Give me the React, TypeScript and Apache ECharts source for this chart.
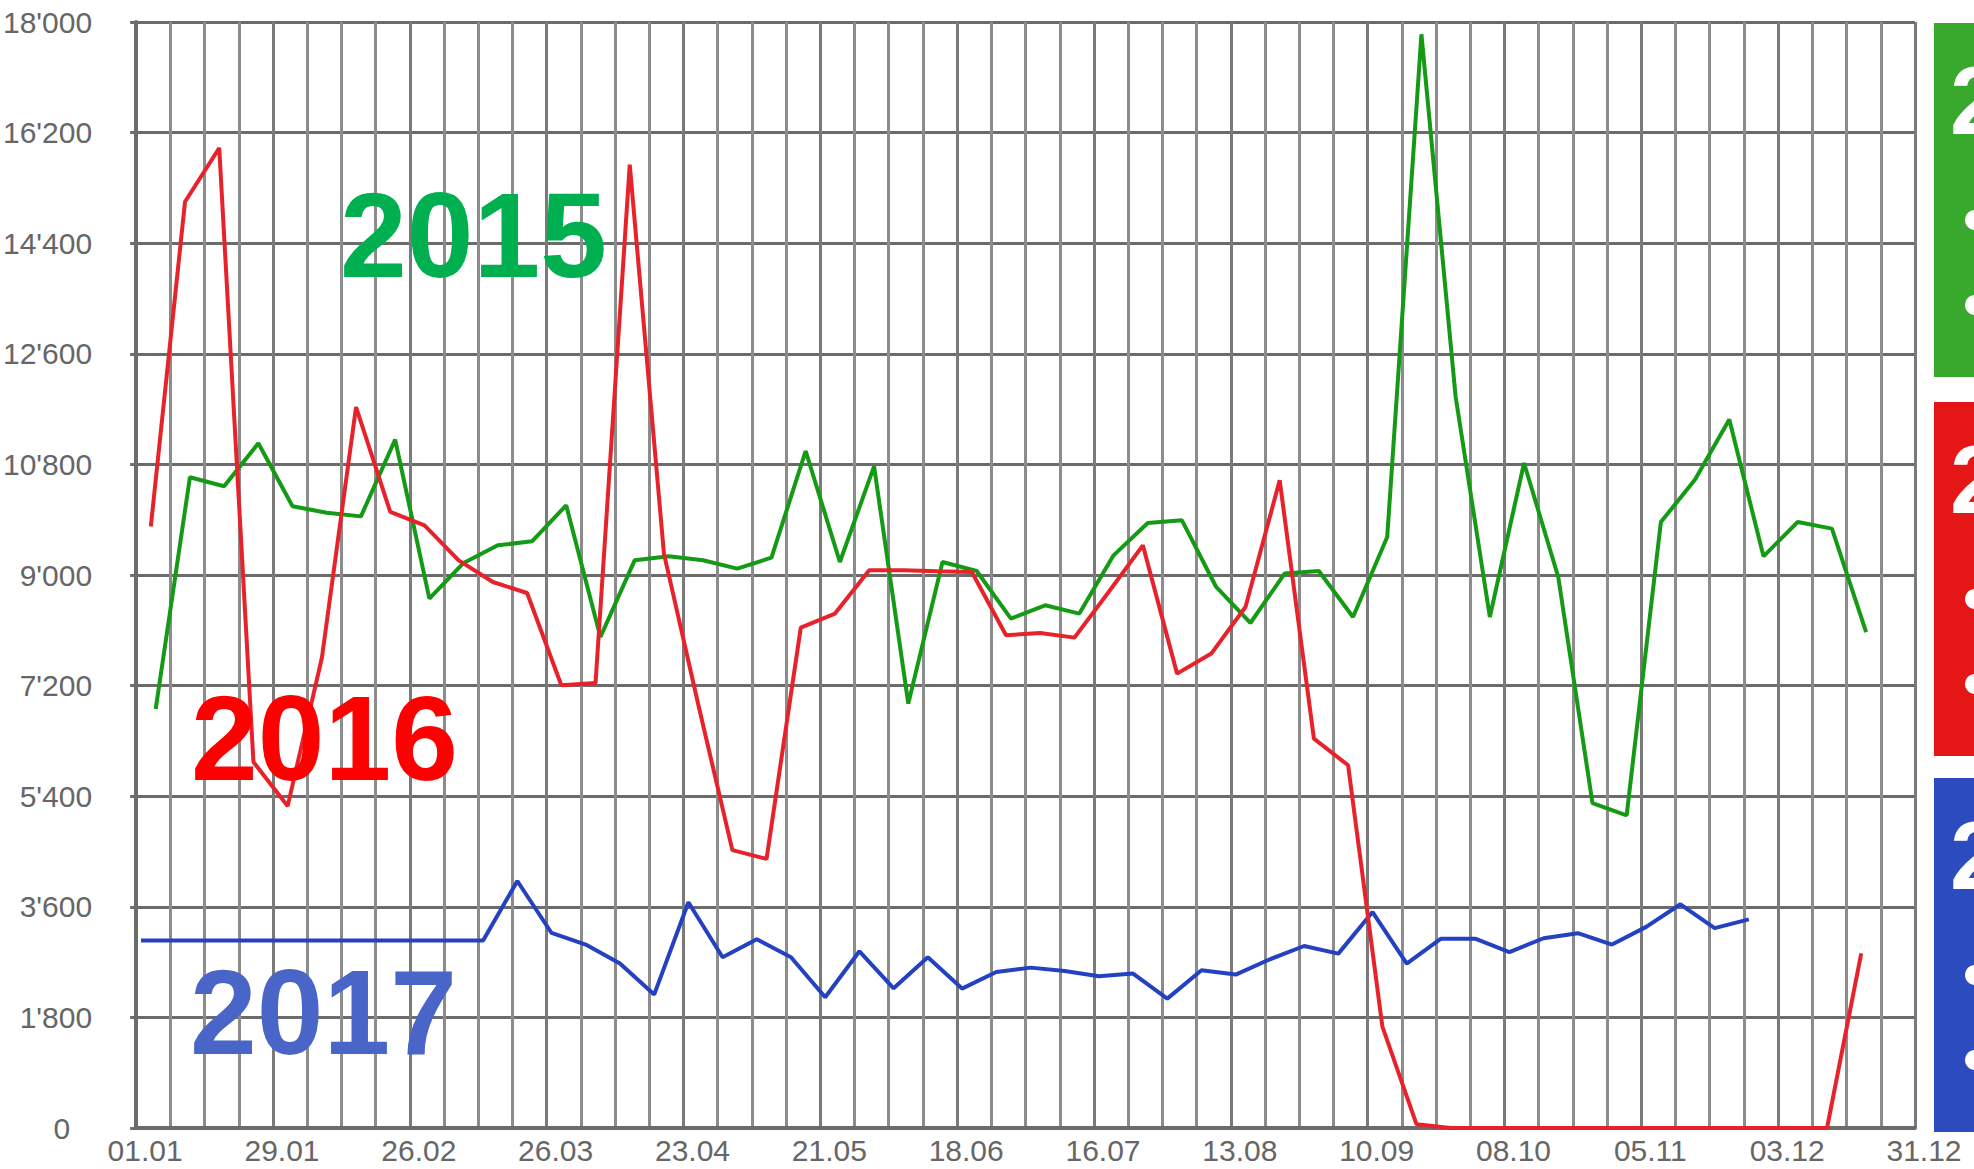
import React, { useEffect, useRef } from 'react';
import * as echarts from 'echarts';

// ---- data ----
const xTickLabels = ['01.01', '29.01', '26.02', '26.03', '23.04', '21.05', '18.06', '16.07', '13.08', '10.09', '08.10', '05.11', '03.12', '31.12'];
const yTickLabels = ['0', "1'800", "3'600", "5'400", "7'200", "9'000", "10'800", "12'600", "14'400", "16'200", "18'000"];
const seriesNames = ['2015', '2016', '2017'];
// day of year (0 = 01.01) of the first weekly point of each year
const firstWeekDay = [4, 3, 1];

const values2015 = [
  6818, 10590, 10444, 11143, 10118, 10014, 9954, 11204, 8616, 9196,
  9483, 9548, 10134, 7991, 9239, 9304, 9239, 9104, 9282, 11018,
  9212, 10769, 6907, 9212, 9065, 8290, 8507, 8372, 9320, 9846,
  9890, 8805, 8219, 9023, 9065, 8316, 9619, 17800, 11900, 8316,
  10823, 8968, 5289, 5089, 9863, 10553, 11529, 9304, 9863, 9755,
  8072,
];
const values2016 = [
  9788, 15075, 15950, 5957, 5239, 7650, 11734, 10026, 9809, 9239,
  8886, 8707, 7205, 7242, 15680, 9348, 6900, 4523, 4380, 8144,
  8372, 9077, 9077, 9060, 9049, 8019, 8056, 7981, 8723, 9483,
  7395, 7721, 8479, 10541, 6337, 5903, 1655, 60, 0, 0,
  0, 0, 0, 0, 0, 0, 0, 0, 0, 0,
  2843,
];
const values2017 = [
  3050, 3050, 3050, 3050, 3050, 3050, 3050, 3050, 3050, 3050,
  3050, 4020, 3174, 2985, 2676, 2171, 3673, 2778, 3071, 2778,
  2127, 2876, 2274, 2778, 2269, 2539, 2610, 2555, 2469, 2513,
  2106, 2567, 2497, 2746, 2962, 2838, 3515, 2676, 3082, 3082,
  2863, 3088, 3170, 2985, 3273, 3641, 3252, 3396,
];

const colors = {
  line2015: '#149a14',
  line2016: '#e8222a',
  line2017: '#2341c0',
  text2015: '#00b050',
  text2016: '#ff0000',
  text2017: '#4a65c8',
  box2015: '#39a92e',
  box2016: '#e51616',
  box2017: '#2b4bbf',
};

const FONT = '"Liberation Sans", Arial, sans-serif';

export default function App() {
  const ref = useRef<HTMLDivElement>(null);

  useEffect(() => {
    const chart = echarts.init(ref.current!, null, { renderer: 'svg' });
    const toPairs = (vals: number[], start: number) => vals.map((v, i) => [start + 7 * i, v]);

    const bigText = (text: string, x: number, y: number, fill: string) => ({
      type: 'text',
      x,
      y,
      z: 50,
      style: {
        text,
        fill,
        font: `bold 120px ${FONT}`,
        textAlign: 'left',
        textVerticalAlign: 'middle',
      },
    });

    const legendBox = (top: number, fill: string, label: string) => ({
      type: 'group',
      children: [
        { type: 'rect', shape: { x: 1934, y: top, width: 60, height: 354 }, style: { fill } },
        {
          type: 'text',
          x: 1950,
          y: top + 77,
          style: { text: label, fill: '#fff', font: `bold 96px ${FONT}`, textAlign: 'left', textVerticalAlign: 'middle' },
        },
        { type: 'circle', shape: { cx: 1975, cy: top + 197, r: 10 }, style: { fill: '#fff' } },
        { type: 'circle', shape: { cx: 1975, cy: top + 282, r: 10 }, style: { fill: '#fff' } },
      ],
    });

    chart.setOption({
      animation: false,
      backgroundColor: '#ffffff',
      grid: { left: 136, right: 59, top: 22, bottom: 41 },
      xAxis: {
        type: 'value',
        min: 0,
        max: 364,
        interval: 28,
        axisLine: { show: true, onZero: false, lineStyle: { color: '#6b6b6b', width: 4 } },
        axisTick: { show: false },
        axisLabel: {
          formatter: (v: number) => xTickLabels[Math.round(v / 28)] ?? '',
          color: '#666666',
          fontSize: 30,
          fontFamily: FONT,
          margin: 7,
          padding: [0, 0, 0, 18],
          showMaxLabel: true,
          showMinLabel: true,
        },
        splitLine: { show: true, lineStyle: { color: '#7a7a7a', width: 3 } },
        minorTick: { show: false, splitNumber: 4 },
        minorSplitLine: { show: true, lineStyle: { color: '#8c8c8c', width: 3 } },
      },
      yAxis: {
        type: 'value',
        min: 0,
        max: 18000,
        interval: 1800,
        axisLine: { show: true, lineStyle: { color: '#6b6b6b', width: 4 } },
        axisTick: { show: true, length: 6, lineStyle: { color: '#6b6b6b', width: 3 } },
        axisLabel: {
          formatter: (v: number) => {
            const s = yTickLabels[Math.round(v / 1800)] ?? '';
            return v === 0 ? `{z|${s}}` : s;
          },
          rich: { z: { padding: [0, 22, 0, 0], fontSize: 30, color: '#666666', fontFamily: FONT } },
          color: '#666666',
          fontSize: 30,
          fontFamily: FONT,
          margin: 44,
        },
        splitLine: { show: true, lineStyle: { color: '#6b6b6b', width: 3 } },
      },
      series: [
        {
          type: 'line',
          name: seriesNames[2],
          data: toPairs(values2017, firstWeekDay[2]),
          symbol: 'none',
          showSymbol: false,
          lineStyle: { color: colors.line2017, width: 4 },
          z: 3,
        },
        {
          type: 'line',
          name: seriesNames[0],
          data: toPairs(values2015, firstWeekDay[0]),
          symbol: 'none',
          showSymbol: false,
          lineStyle: { color: colors.line2015, width: 4 },
          z: 4,
        },
        {
          type: 'line',
          name: seriesNames[1],
          data: toPairs(values2016, firstWeekDay[1]),
          symbol: 'none',
          showSymbol: false,
          lineStyle: { color: colors.line2016, width: 4 },
          z: 5,
        },
      ],
      graphic: [
        bigText(seriesNames[0], 340, 235, colors.text2015),
        bigText(seriesNames[1], 191, 738, colors.text2016),
        bigText(seriesNames[2], 190, 1012, colors.text2017),
        legendBox(23, colors.box2015, '2'),
        legendBox(402, colors.box2016, '2'),
        legendBox(778, colors.box2017, '2'),
      ],
    });

    return () => chart.dispose();
  }, []);

  return (
    <div
      ref={ref}
      style={{ position: 'fixed', left: 0, top: 0, width: 1974, height: 1169, background: '#fff' }}
    />
  );
}
